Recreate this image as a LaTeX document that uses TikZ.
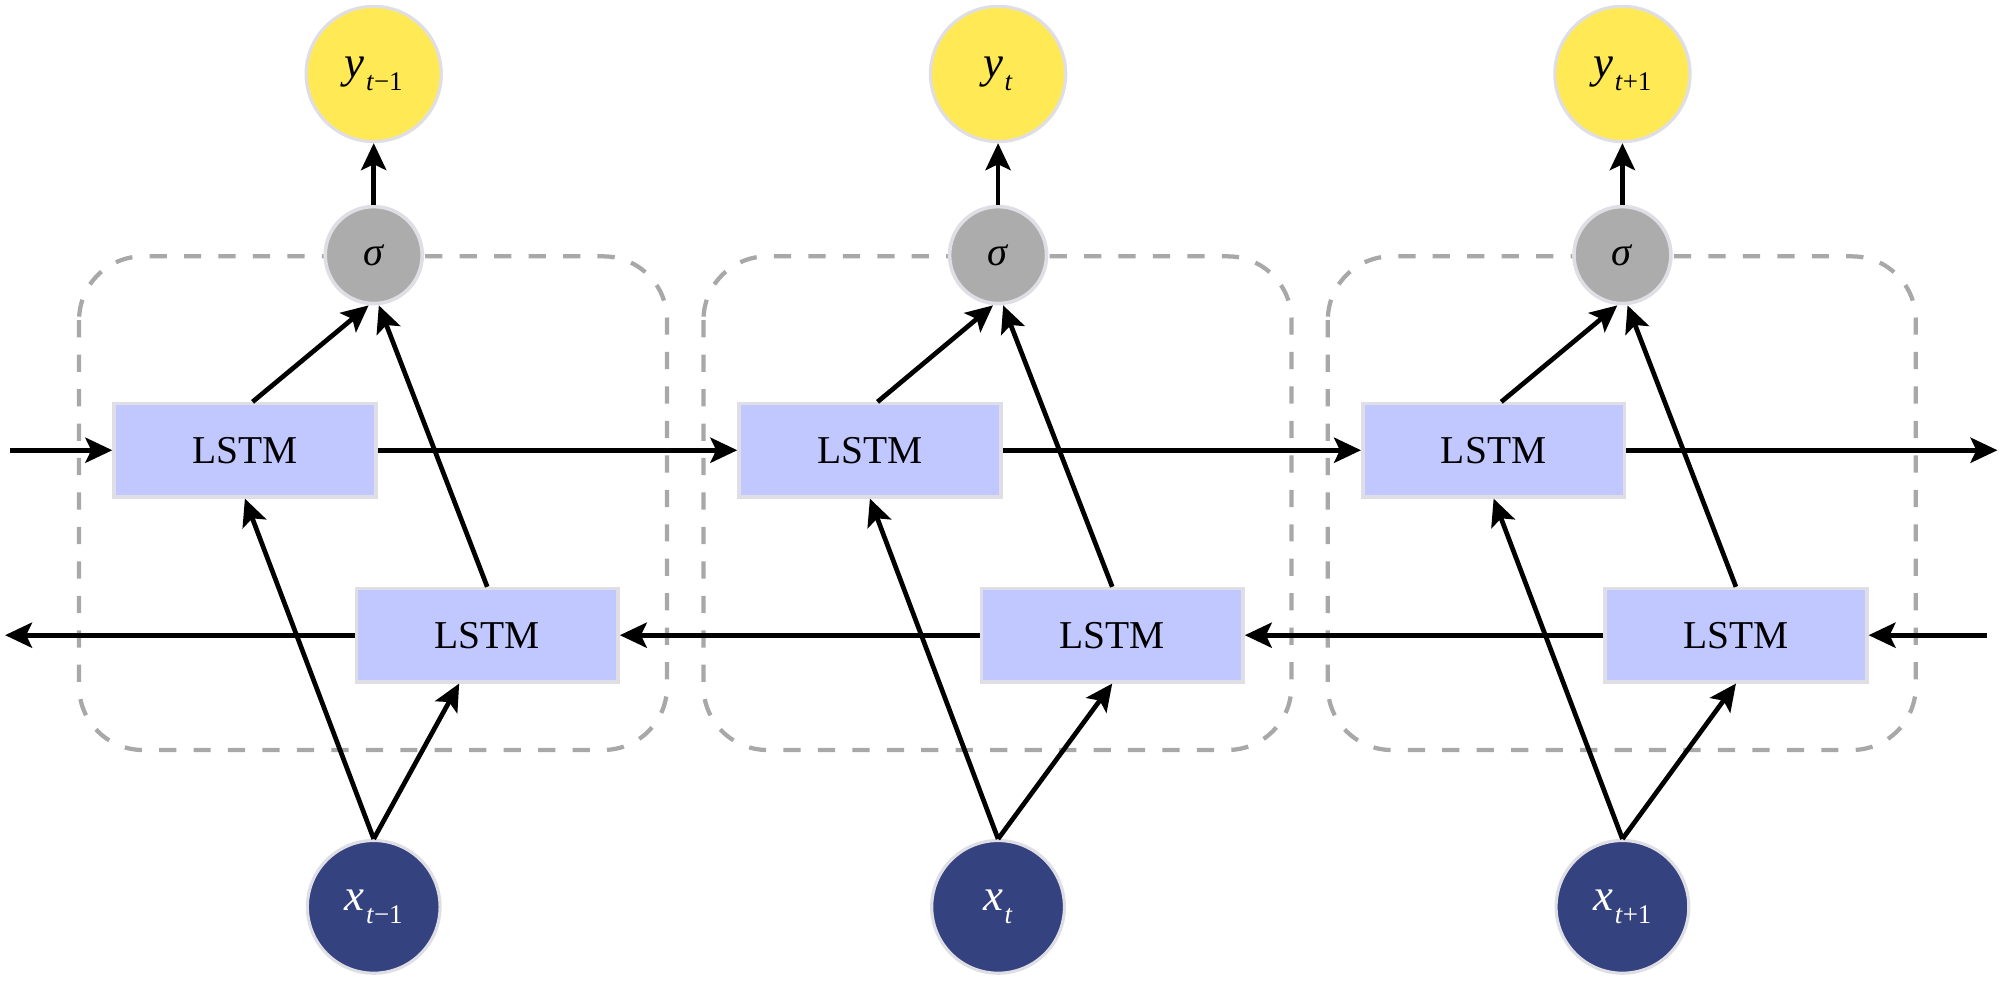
\documentclass[tikz,border=0pt]{standalone}
\usepackage{fontspec}
\setmainfont{Liberation Serif}
\usetikzlibrary{arrows.meta,calc}
\definecolor{ycol}{RGB}{255,233,85}
\definecolor{scol}{RGB}{172,172,172}
\definecolor{xcol}{RGB}{52,66,128}
\definecolor{lcol}{RGB}{192,200,255}
\definecolor{rimcol}{RGB}{222,222,228}
\definecolor{dashcol}{RGB}{168,168,168}
\newcommand{\varlab}[2]{\fontsize{10}{12}\selectfont\textit{#1}\kern0.3pt\raisebox{-2.8pt}{\fontsize{6}{7}\selectfont #2}}
\begin{document}
\begin{tikzpicture}[x=0.01cm,y=-0.01cm,
  arr/.style={-{Stealth[length=6pt,width=5.6pt,inset=1.3pt]},line width=1.05pt,black},
  lstm/.style={draw=rimcol,line width=0.8pt,fill=lcol,minimum width=2.05cm,minimum height=0.73cm,inner sep=0pt,font=\fontsize{8.8}{10}\selectfont},
  ynode/.style={circle,draw=rimcol,line width=0.7pt,fill=ycol,minimum size=1.06cm,inner sep=0pt},
  snode/.style={circle,draw=rimcol,line width=0.8pt,fill=scol,minimum size=0.76cm,inner sep=0pt,font=\fontsize{9}{10}\selectfont},
  xnode/.style={circle,draw=rimcol,line width=0.7pt,fill=xcol,minimum size=1.04cm,inner sep=0pt,text=white},
  cellbox/.style={draw=dashcol,line width=0.95pt,dash pattern=on 0.135cm off 0.135cm,rounded corners=0.5cm}]
\useasboundingbox (0,0) rectangle (1568,774);
% dashed cells
\draw[cellbox] (62,201) rectangle (523,588);
\draw[cellbox] (551.5,201) rectangle (1012.5,588);
\draw[cellbox] (1041,201) rectangle (1502,588);
% column 1
\node[ynode] (y1) at (293,58) {\varlab{y}{\textit{t}−1}};
\node[snode] (s1) at (293,200) {\textit{σ}};
\node[lstm] (u1) at (192,353) {LSTM};
\node[lstm] (l1) at (382,498) {LSTM};
\node[xnode] (x1) at (293,711) {\varlab{x}{\textit{t}−1}};
% column 2
\node[ynode] (y2) at (782.5,58) {\varlab{y}{\textit{t}}};
\node[snode] (s2) at (782.5,200) {\textit{σ}};
\node[lstm] (u2) at (682,353) {LSTM};
\node[lstm] (l2) at (872,498) {LSTM};
\node[xnode] (x2) at (782.5,711) {\varlab{x}{\textit{t}}};
% column 3
\node[ynode] (y3) at (1272,58) {\varlab{y}{\textit{t}+1}};
\node[snode] (s3) at (1272,200) {\textit{σ}};
\node[lstm] (u3) at (1171,353) {LSTM};
\node[lstm] (l3) at (1361,498) {LSTM};
\node[xnode] (x3) at (1272,711) {\varlab{x}{\textit{t}+1}};
% free ends
\coordinate (fin) at (8,353);
\coordinate (fout) at (1566,353);
\coordinate (bin) at (1558,498);
\coordinate (bout) at (4,498);
% forward chain
\draw[arr] (fin) -- (u1);
\draw[arr] (u1) -- (u2);
\draw[arr] (u2) -- (u3);
\draw[arr] (u3) -- (fout);
% backward chain
\draw[arr] (bin) -- (l3);
\draw[arr] (l3) -- (l2);
\draw[arr] (l2) -- (l1);
\draw[arr] (l1) -- (bout);
% outputs
\draw[arr] (s1) -- (y1);
\draw[arr] (s2) -- (y2);
\draw[arr] (s3) -- (y3);
\draw[arr] ($(u1.north)+(6,0)$) -- ($(s1.south)+(-4,0)$);
\draw[arr] (l1.north) -- ($(s1.south)+(4,0)$);
\draw[arr] ($(u2.north)+(6,0)$) -- ($(s2.south)+(-4,0)$);
\draw[arr] (l2.north) -- ($(s2.south)+(4,0)$);
\draw[arr] ($(u3.north)+(6,0)$) -- ($(s3.south)+(-4,0)$);
\draw[arr] (l3.north) -- ($(s3.south)+(4,0)$);
% inputs
\draw[arr] (x1.north) -- (u1.south);
\draw[arr] (x1.north) -- ($(l1.south)+(-22,0)$);
\draw[arr] (x2.north) -- (u2.south);
\draw[arr] (x2.north) -- (l2.south);
\draw[arr] (x3.north) -- (u3.south);
\draw[arr] (x3.north) -- (l3.south);
\end{tikzpicture}
\end{document}
